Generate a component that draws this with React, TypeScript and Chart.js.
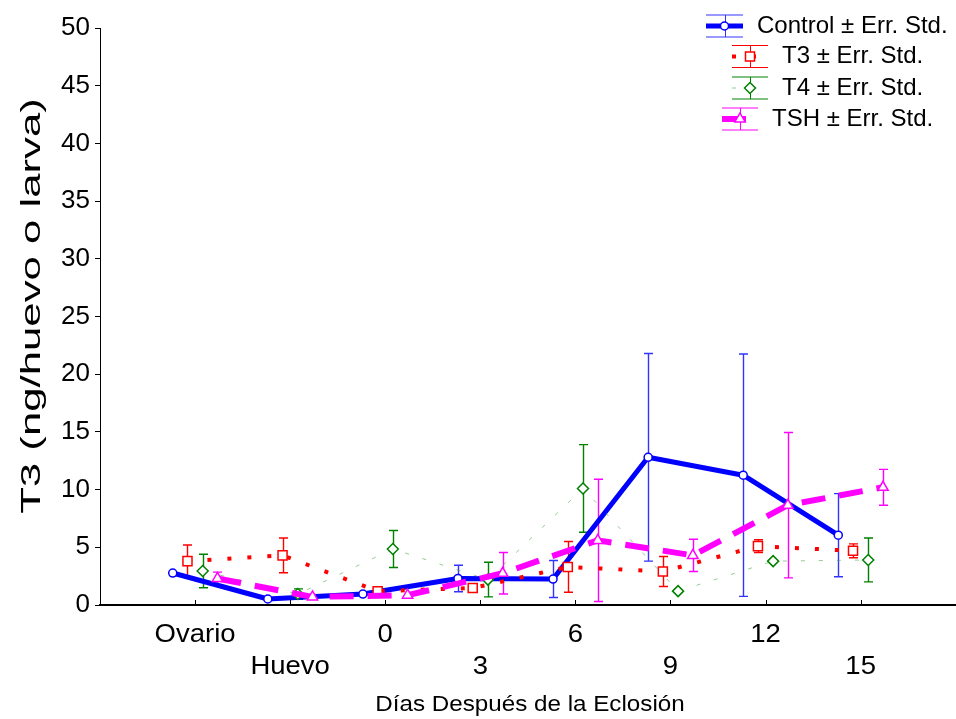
import React, { useEffect, useRef } from 'react';
import { Chart, registerables } from 'chart.js';
Chart.register(...registerables);

const categories = ['Ovario', 'Huevo', '0', '3', '6', '9', '12', '15'];
const seriesNames = ['Control', 'T3', 'T4', 'TSH'];
const controlMean = [2.77, 0.52, 0.95, 2.3, 2.25, 12.8, 11.25, 6.05];
const controlErr = [0, 0, 0, 1.15, 1.6, 9.0, 10.5, 3.6];
const t3Mean = [3.8, 4.3, 1.2, 1.47, 3.3, 2.9, 5.1, 4.7];
const t3Err = [1.4, 1.5, 0.25, 0.35, 2.2, 1.3, 0.55, 0.6];
const t4Mean = [2.95, 0.95, 4.85, 2.2, 10.1, 1.2, 3.8, 3.9];
const t4Err = [1.45, 0.45, 1.6, 1.5, 3.8, 0, 0, 1.9];
const tshMean = [2.3, 0.7, 0.85, 2.75, 5.6, 4.3, 8.65, 10.2];
const tshErr = [0.55, 0, 0, 1.8, 5.3, 1.4, 6.3, 1.55];
const yTickValues = [0, 5, 10, 15, 20, 25, 30, 35, 40, 45, 50];
const xTitle = 'Días Después de la Eclosión';
const yTitle = 'T3 (ng/huevo o larva)';
const legendSuffix = ' ± Err. Std.';

const FONT = '"Liberation Sans", Arial, Helvetica, sans-serif';

type Style = {
  color: string; lineColor: string; width: number; dash: number[]; marker: string; radius: number;
  offset: number; order: number; barColor: string;
};
const styles: Style[] = [
  { color: '#0000FF', lineColor: '#0000FF', width: 5, dash: [], marker: 'circle', radius: 4, offset: -0.235, order: 4, barColor: '#3333FF' },
  { color: '#FF0000', lineColor: '#FF0000', width: 4, dash: [4, 16], marker: 'rect', radius: 6.4, offset: -0.08, order: 3, barColor: '#FF0000' },
  { color: '#008000', lineColor: 'rgba(60,160,60,0.55)', width: 1, dash: [4, 14], marker: 'rectRot', radius: 5.5, offset: 0.08, order: 2, barColor: '#008000' },
  { color: '#FF00FF', lineColor: '#FF00FF', width: 6, dash: [24, 14], marker: 'triangle', radius: 6, offset: 0.235, order: 1, barColor: '#FF00FF' },
];
const means = [controlMean, t3Mean, t4Mean, tshMean];
const errs = [controlErr, t3Err, t4Err, tshErr];

function drawMarker(ctx: CanvasRenderingContext2D, kind: string, x: number, y: number, r: number, color: string) {
  ctx.save();
  ctx.beginPath();
  if (kind === 'circle') {
    ctx.arc(x, y, r, 0, Math.PI * 2);
  } else if (kind === 'rect') {
    const s = r * Math.SQRT1_2;
    ctx.rect(x - s, y - s, 2 * s, 2 * s);
  } else if (kind === 'rectRot') {
    ctx.moveTo(x, y - r); ctx.lineTo(x + r, y); ctx.lineTo(x, y + r); ctx.lineTo(x - r, y); ctx.closePath();
  } else {
    const h = r * 1.5;
    ctx.moveTo(x, y - r); ctx.lineTo(x + r * 0.866, y + h - r); ctx.lineTo(x - r * 0.866, y + h - r); ctx.closePath();
  }
  ctx.fillStyle = '#FFFFFF';
  ctx.fill();
  ctx.lineWidth = 1.5;
  ctx.strokeStyle = color;
  ctx.stroke();
  ctx.restore();
}

function stretchedText(ctx: CanvasRenderingContext2D, text: string, x: number, y: number, size: number, sx: number, align: CanvasTextAlign, rot = 0) {
  ctx.save();
  ctx.translate(x, y);
  if (rot) ctx.rotate(rot);
  ctx.scale(sx, 1);
  ctx.font = `${size}px ${FONT}`;
  ctx.fillStyle = '#000';
  ctx.textAlign = align;
  ctx.textBaseline = 'middle';
  ctx.fillText(text, 0, 0);
  ctx.restore();
}

const errorBarPlugin = {
  id: 'errorBars',
  beforeDatasetsDraw(chart: any) {
    const ctx = chart.ctx as CanvasRenderingContext2D;
    const xs = chart.scales.x, ys = chart.scales.y;
    ctx.save();
    ctx.lineWidth = 1.4;
    ctx.setLineDash([]);
    means.forEach((m, d) => {
      const st = styles[d];
      ctx.strokeStyle = st.barColor;
      m.forEach((v, i) => {
        const e = errs[d][i];
        if (!e) return;
        const x = Math.round(xs.getPixelForValue(i + st.offset)) + 0.5;
        const yt = ys.getPixelForValue(v + e);
        const yb = ys.getPixelForValue(Math.max(0, v - e));
        ctx.beginPath();
        ctx.moveTo(x, yt); ctx.lineTo(x, yb);
        ctx.moveTo(x - 4.5, yt); ctx.lineTo(x + 4.5, yt);
        ctx.moveTo(x - 4.5, yb); ctx.lineTo(x + 4.5, yb);
        ctx.stroke();
      });
    });
    ctx.restore();
  },
};

const decorPlugin = {
  id: 'decor',
  afterDraw(chart: any) {
    const ctx = chart.ctx as CanvasRenderingContext2D;
    const xs = chart.scales.x;
    const area = chart.chartArea;
    ctx.save();
    ctx.strokeStyle = '#000';
    ctx.lineWidth = 2;
    ctx.beginPath();
    ctx.moveTo(area.right - 1, area.bottom);
    ctx.lineTo(chart.width, area.bottom);
    ctx.stroke();
    ctx.lineWidth = 1;
    categories.forEach((_, i) => {
      const x = Math.round(xs.getPixelForValue(i)) + 0.5;
      ctx.beginPath();
      ctx.moveTo(x, area.bottom);
      ctx.lineTo(x, area.bottom - 5);
      ctx.stroke();
    });
    ctx.restore();
    categories.forEach((c, i) => {
      const x = xs.getPixelForValue(i);
      const y = area.bottom + (i % 2 === 0 ? 30 : 62);
      stretchedText(ctx, c, x, y, 25, 1.1, 'center');
    });
    stretchedText(ctx, xTitle, 530, area.bottom + 100, 22, 1.1, 'center');
    stretchedText(ctx, yTitle, 33, 306, 27, 1.62, 'center', -Math.PI / 2);
    const rows = [
      { y: 26, l: 706, r: 743, tx: 757 },
      { y: 56.5, l: 732, r: 768, tx: 782 },
      { y: 88, l: 732, r: 768, tx: 782 },
      { y: 119, l: 722, r: 758, tx: 772 },
    ];
    rows.forEach((row, d) => {
      const st = styles[d];
      const cx = (row.l + row.r) / 2;
      ctx.save();
      ctx.strokeStyle = st.barColor;
      ctx.lineWidth = 1;
      ctx.beginPath();
      ctx.moveTo(row.l, row.y - 11); ctx.lineTo(row.r, row.y - 11);
      ctx.moveTo(row.l, row.y + 11); ctx.lineTo(row.r, row.y + 11);
      ctx.moveTo(Math.round(cx) + 0.5, row.y - 11); ctx.lineTo(Math.round(cx) + 0.5, row.y + 11);
      ctx.stroke();
      ctx.strokeStyle = st.lineColor;
      ctx.lineWidth = st.width;
      ctx.setLineDash(st.dash);
      ctx.beginPath();
      ctx.moveTo(row.l, row.y); ctx.lineTo(row.r, row.y);
      ctx.stroke();
      ctx.restore();
      drawMarker(ctx, st.marker, cx, row.y, st.radius, st.color);
      stretchedText(ctx, seriesNames[d] + legendSuffix, row.tx, row.y, 24, 1.0, 'left');
    });
  },
};

export default function App() {
  const ref = useRef<HTMLCanvasElement>(null);
  useEffect(() => {
    document.body.style.margin = '0';
    const datasets = means.map((m, d) => {
      const st = styles[d];
      return {
        label: seriesNames[d],
        data: m.map((v, i) => ({ x: i + st.offset, y: v })),
        borderColor: st.lineColor,
        borderWidth: st.width,
        borderDash: st.dash,
        borderCapStyle: 'butt' as const,
        borderJoinStyle: 'round' as const,
        pointStyle: st.marker,
        pointRadius: st.radius,
        pointBorderWidth: 1.5,
        pointBorderColor: st.color,
        pointBackgroundColor: '#FFFFFF',
        showLine: true,
        tension: 0,
        fill: false,
        order: st.order,
      };
    });
    const chart = new Chart(ref.current!, {
      type: 'line',
      data: { datasets: datasets as any },
      plugins: [errorBarPlugin, decorPlugin],
      options: {
        animation: false,
        responsive: false,
        devicePixelRatio: 1,
        layout: { padding: { top: 28, right: 0, left: 0, bottom: 0 } },
        plugins: { legend: { display: false }, tooltip: { enabled: false }, title: { display: false } },
        scales: {
          x: {
            type: 'linear', min: -1, max: 7.92,
            ticks: { display: false },
            grid: { display: false },
            border: { display: true, color: '#000', width: 2 },
            afterFit: (s: any) => { s.height = 114; },
          },
          y: {
            type: 'linear', min: 0, max: 50,
            afterBuildTicks: (s: any) => { s.ticks = yTickValues.map((v) => ({ value: v })); },
            ticks: { color: '#000', font: { size: 26, family: FONT }, padding: 5 },
            grid: { display: true, drawOnChartArea: false, drawTicks: true, tickLength: 5, color: '#000', lineWidth: 1 },
            border: { display: true, color: '#000', width: 1 },
            afterFit: (s: any) => { s.width = 100; },
          },
        },
      } as any,
    });
    return () => chart.destroy();
  }, []);
  return (
    <div style={{ width: 956, height: 719 }}>
      <canvas ref={ref} width={956} height={719} style={{ display: 'block' }} />
    </div>
  );
}
